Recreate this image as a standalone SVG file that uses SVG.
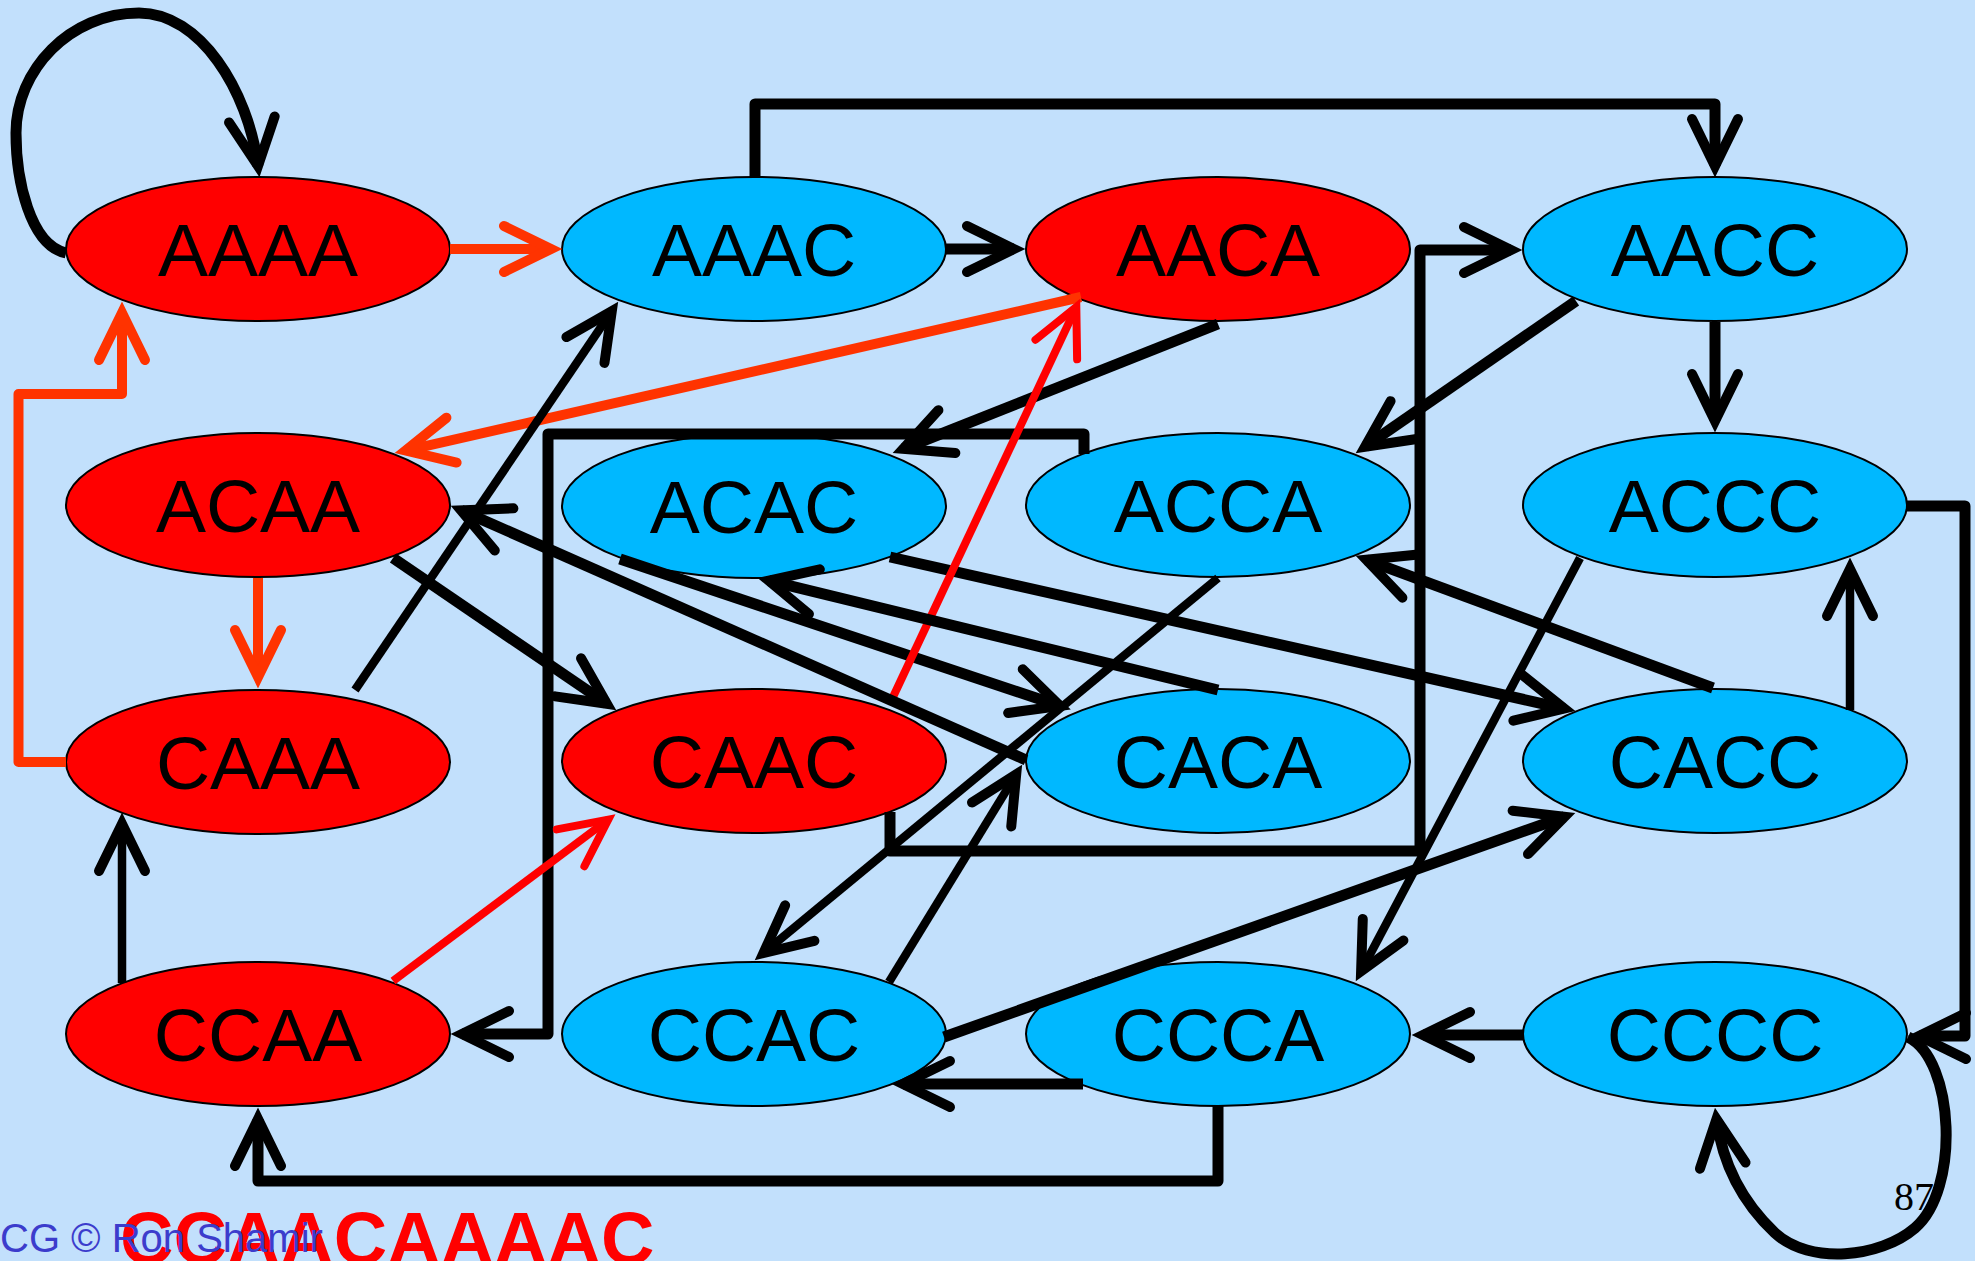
<svg xmlns="http://www.w3.org/2000/svg" width="1975" height="1261" viewBox="0 0 1975 1261">
<style>
.r{fill:#FF0000;stroke:#000;stroke-width:2}
.b{fill:#00B8FF;stroke:#000;stroke-width:2}
.lbl{font-family:"Liberation Sans",Arial,sans-serif;font-size:75px;fill:#000;text-anchor:middle}
.e{fill:none;stroke:#000;stroke-width:11;stroke-linejoin:round;marker-end:url(#ak)}
.t{stroke-width:8.5}
.o{stroke:#FF3300;stroke-width:10;marker-end:url(#ao)}
.rd{stroke:#FF0000;stroke-width:8;marker-end:url(#ar)}
</style>
<defs>
<marker id="ak" markerUnits="userSpaceOnUse" viewBox="-70 -40 100 80" markerWidth="100" markerHeight="80" refX="0" refY="0" orient="auto" overflow="visible">
<path d="M-47,-23 L0,0 L-47,23" fill="none" stroke="#000" stroke-width="10" stroke-linecap="round" stroke-linejoin="miter"/>
</marker>
<marker id="ao" markerUnits="userSpaceOnUse" viewBox="-70 -40 100 80" markerWidth="100" markerHeight="80" refX="0" refY="0" orient="auto" overflow="visible">
<path d="M-47,-23 L0,0 L-47,23" fill="none" stroke="#FF3300" stroke-width="10" stroke-linecap="round" stroke-linejoin="miter"/>
</marker>
<marker id="ar" markerUnits="userSpaceOnUse" viewBox="-70 -40 100 80" markerWidth="100" markerHeight="80" refX="0" refY="0" orient="auto" overflow="visible">
<path d="M-47,-23 L0,0 L-47,23" fill="none" stroke="#FF0000" stroke-width="8" stroke-linecap="round" stroke-linejoin="miter"/>
</marker>
</defs>
<rect width="1975" height="1261" fill="#C2E0FC"/>

<g id="nodes">
<g id="AAAA"><ellipse class="r" cx="258" cy="249" rx="192" ry="72"/><text class="lbl" x="258" y="276">AAAA</text></g>
<g id="AAAC"><ellipse class="b" cx="754" cy="249" rx="192" ry="72"/><text class="lbl" x="754" y="276">AAAC</text></g>
<g id="AACA"><ellipse class="r" cx="1218" cy="249" rx="192" ry="72"/><text class="lbl" x="1218" y="276">AACA</text></g>
<g id="AACC"><ellipse class="b" cx="1715" cy="249" rx="192" ry="72"/><text class="lbl" x="1715" y="276">AACC</text></g>
<g id="ACAA"><ellipse class="r" cx="258" cy="505" rx="192" ry="72"/><text class="lbl" x="258" y="532">ACAA</text></g>
<g id="ACAC"><ellipse class="b" cx="754" cy="506" rx="192" ry="72"/><text class="lbl" x="754" y="533">ACAC</text></g>
<g id="ACCA"><ellipse class="b" cx="1218" cy="505" rx="192" ry="72"/><text class="lbl" x="1218" y="532">ACCA</text></g>
<g id="ACCC"><ellipse class="b" cx="1715" cy="505" rx="192" ry="72"/><text class="lbl" x="1715" y="532">ACCC</text></g>
<g id="CAAA"><ellipse class="r" cx="258" cy="762" rx="192" ry="72"/><text class="lbl" x="258" y="789">CAAA</text></g>
<g id="CAAC"><ellipse class="r" cx="754" cy="761" rx="192" ry="72"/><text class="lbl" x="754" y="788">CAAC</text></g>
<g id="CACA"><ellipse class="b" cx="1218" cy="761" rx="192" ry="72"/><text class="lbl" x="1218" y="788">CACA</text></g>
<g id="CACC"><ellipse class="b" cx="1715" cy="761" rx="192" ry="72"/><text class="lbl" x="1715" y="788">CACC</text></g>
<g id="CCAA"><ellipse class="r" cx="258" cy="1034" rx="192" ry="72"/><text class="lbl" x="258" y="1061">CCAA</text></g>
<g id="CCAC"><ellipse class="b" cx="754" cy="1034" rx="192" ry="72"/><text class="lbl" x="754" y="1061">CCAC</text></g>
<g id="CCCA"><ellipse class="b" cx="1218" cy="1034" rx="192" ry="72"/><text class="lbl" x="1218" y="1061">CCCA</text></g>
<g id="CCCC"><ellipse class="b" cx="1715" cy="1034" rx="192" ry="72"/><text class="lbl" x="1715" y="1061">CCCC</text></g>
</g>

<g id="connectors">
<path class="e" d="M66,253 C30,245 16,180 16,133 C16,70 70,13 139,13 C200,13 248,90 258,166"/>
<path class="e o" d="M450,249 H551"/>
<path class="e" d="M946,249 H1014"/>
<path class="e" d="M755,178 V104 H1715 V166"/>
<path class="e o" d="M1081,297 L405.7,450.6"/>
<path class="e" d="M1218,324 L903.2,448.9"/>
<path class="e" d="M1576,301 L1365,446.8"/>
<path class="e" d="M1715,322 V421"/>
<path class="e o" d="M258,578 V677"/>
<path class="e" d="M393,558 L606.9,703.8"/>
<path class="e" d="M620,559 L1060,706"/>
<path class="e" d="M890,557 L1564.3,708.6"/>
<path class="e" d="M1084,454 V434 H548 V1034 H462"/>
<path class="e t" d="M1218,578 L763.5,953"/>
<path class="e t" d="M1580,558 L1361.1,971.3"/>
<path class="e" d="M1907,506 H1965 V1036 H1919"/>
<path class="e o" d="M66,762 H18.5 V394 H122 V313"/>
<path class="e t" d="M355,690 L611.8,311.1"/>
<path class="e rd" d="M893,697 L1076.3,307"/>
<path class="e" d="M890,812 V851 H1420 V250 H1511"/>
<path class="e" d="M1026,760 L461.1,510.4"/>
<path class="e" d="M1218,690 L768.7,580.6"/>
<path class="e" d="M1713,688 L1366.3,559.8"/>
<path class="e t" d="M1850,710 V569"/>
<path class="e t" d="M122,983 V824"/>
<path class="e rd" d="M393,981 L608.2,819.6"/>
<path class="e t" d="M889,982 L1016.2,774.4"/>
<path class="e" d="M944,1037 L1564.6,816.7"/>
<path class="e" d="M1218,1106 V1181 H258 V1119"/>
<path class="e" d="M1083,1084 H903"/>
<path class="e" d="M1523,1035 H1423"/>
<path class="e" d="M1908,1037 C1955,1060 1960,1190 1915,1228 C1880,1258 1810,1265 1775,1233 C1740,1200 1722,1160 1716.5,1119"/>
</g>

<text x="1894" y="1210" font-family="Liberation Serif, serif" font-size="40" fill="#000">87</text>
<text x="120" y="1264" font-family="Liberation Sans, Arial, sans-serif" font-size="74" font-weight="bold" fill="#FF0000">CCAACAAAAC</text>
<text x="0" y="1252" font-family="Liberation Sans, Arial, sans-serif" font-size="40" fill="#3C3CCC">CG © Ron Shamir</text>
</svg>
